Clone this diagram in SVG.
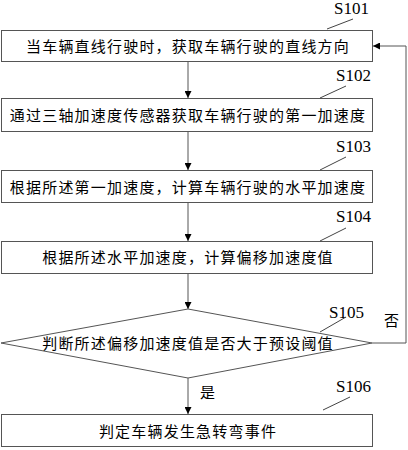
<svg xmlns="http://www.w3.org/2000/svg" width="408" height="450" viewBox="0 0 408 450">
<defs>
<marker id="arr" viewBox="0 0 10 10" refX="10" refY="5" markerWidth="7" markerHeight="7" orient="auto" markerUnits="userSpaceOnUse">
<path d="M0,0 L10,5 L0,10 z" fill="#000"/>
</marker>
<style>
.box{fill:#fff;stroke:#555;stroke-width:1}
.t{font-family:"Liberation Serif","Noto Sans CJK SC",serif;font-size:15px;letter-spacing:1.2px;fill:#000;text-anchor:middle}
.s{font-family:"Liberation Serif",serif;font-size:17px;fill:#000}
.ld{stroke:#444;stroke-width:1;fill:none}
.c{stroke:#555;stroke-width:1;fill:none}
</style>
</defs>
<rect width="408" height="450" fill="#fff"/>
<g id="connectors">
<line class="c" x1="188" y1="62" x2="188" y2="98" marker-end="url(#arr)"/>
<line class="c" x1="188" y1="132" x2="188" y2="170" marker-end="url(#arr)"/>
<line class="c" x1="188" y1="203" x2="188" y2="241" marker-end="url(#arr)"/>
<line class="c" x1="188" y1="273" x2="188" y2="309" marker-end="url(#arr)"/>
<line class="c" x1="188" y1="378" x2="188" y2="414" marker-end="url(#arr)"/>
<polyline class="c" points="372,343 406,343 406,46 373,46" marker-end="url(#arr)"/>
<text class="t" x="392" y="326">否</text>
<text class="t" x="208" y="398">是</text>
</g>
<g id="S101">
<rect class="box" x="1.5" y="30.5" width="371" height="31"/>
<text class="t" x="188" y="52">当车辆直线行驶时，获取车辆行驶的直线方向</text>
<text class="s" x="334" y="14">S101</text>
<line class="ld" x1="327" y1="29" x2="353" y2="19"/>
</g>
<g id="S102">
<rect class="box" x="1.5" y="98.5" width="371" height="33"/>
<text class="t" x="188" y="121">通过三轴加速度传感器获取车辆行驶的第一加速度</text>
<text class="s" x="336" y="81">S102</text>
<line class="ld" x1="320" y1="98" x2="346" y2="86"/>
</g>
<g id="S103">
<rect class="box" x="1.5" y="170.5" width="371" height="32"/>
<text class="t" x="188" y="193">根据所述第一加速度，计算车辆行驶的水平加速度</text>
<text class="s" x="336" y="152">S103</text>
<line class="ld" x1="320" y1="170" x2="346" y2="157"/>
</g>
<g id="S104">
<rect class="box" x="1.5" y="241.5" width="371" height="32"/>
<text class="t" x="188" y="263">根据所述水平加速度，计算偏移加速度值</text>
<text class="s" x="336" y="222">S104</text>
<line class="ld" x1="320" y1="241" x2="346" y2="228"/>
</g>
<g id="S105">
<polygon class="box" points="188,309 372,343 188,378 1,343"/>
<text class="t" x="188" y="349">判断所述偏移加速度值是否大于预设阈值</text>
<text class="s" x="329" y="318">S105</text>
<line class="ld" x1="320" y1="332" x2="346" y2="317"/>
</g>
<g id="S106">
<rect class="box" x="1.5" y="414.5" width="371" height="32"/>
<text class="t" x="188" y="437">判定车辆发生急转弯事件</text>
<text class="s" x="336" y="392">S106</text>
<line class="ld" x1="323" y1="410" x2="350" y2="397"/>
</g>
</svg>
